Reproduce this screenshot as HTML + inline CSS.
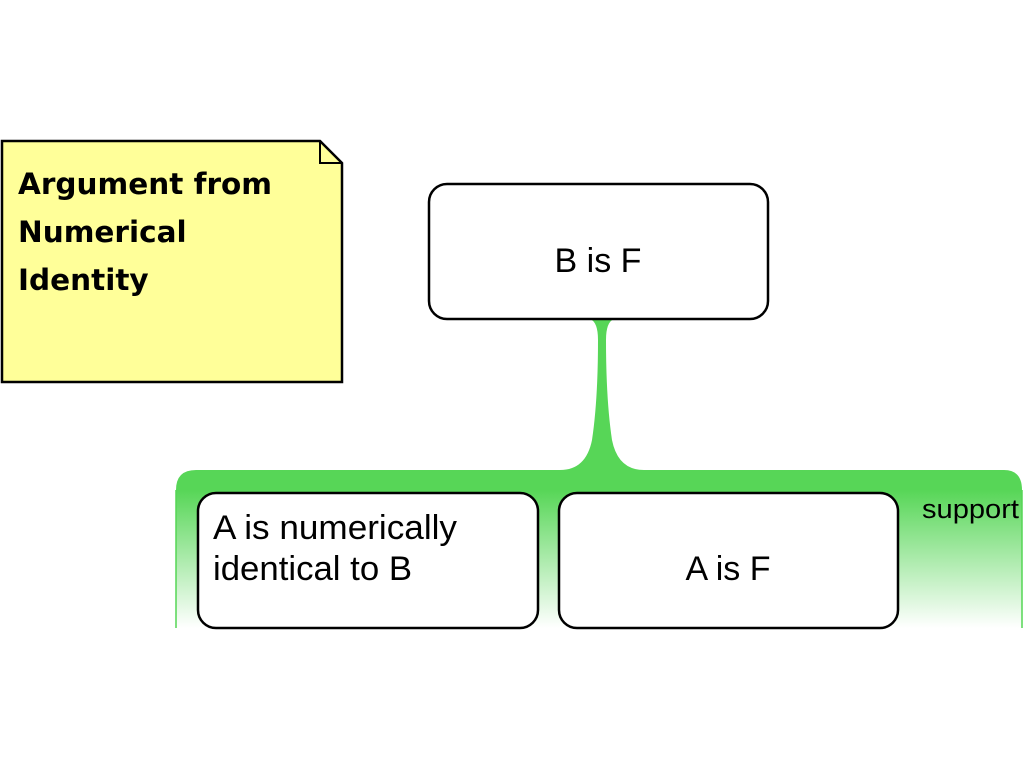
<!DOCTYPE html>
<html><head><meta charset="utf-8"><style>
html,body{margin:0;padding:0;background:#fff;}
svg{display:block;}
</style></head><body>
<svg width="1024" height="768" viewBox="0 0 1024 768" xmlns="http://www.w3.org/2000/svg">
<defs>
<linearGradient id="g" gradientUnits="userSpaceOnUse" x1="0" y1="490" x2="0" y2="628">
<stop offset="0" stop-color="#57d657"/>
<stop offset="1" stop-color="#ffffff"/>
</linearGradient>
</defs>
<!-- green support region -->
<path d="M176,628 L176,490 Q176,470 196,470 L560,470 Q586,470 592,440 Q598,400 598,340 Q598,322 590,319 L614,319 Q606,322 606,340 Q606,400 612,440 Q618,470 644,470 L1004,470 Q1022,470 1022,490 L1022,628 Z" fill="url(#g)"/>
<path d="M176,628 L176,490 M1022,490 L1022,628" stroke="#55d655" stroke-width="1.5" fill="none"/>
<!-- note -->
<polygon points="2,141 320,141 342,163 342,382 2,382" fill="#ffff99" stroke="#000" stroke-width="2.5"/>
<polyline points="320,141 320,163 342,163" fill="none" stroke="#000" stroke-width="2"/>
<g font-family="'Comic Sans MS','DejaVu Sans',sans-serif" font-weight="bold" font-size="29.5" fill="#000">
<text x="18" y="194">Argument from</text>
<text x="18" y="242">Numerical</text>
<text x="18" y="290">Identity</text>
</g>
<!-- boxes -->
<rect x="429" y="184" width="339" height="135" rx="18" fill="#fff" stroke="#000" stroke-width="2.5"/>
<rect x="198" y="493" width="340" height="135" rx="18" fill="#fff" stroke="#000" stroke-width="2.5"/>
<rect x="559" y="493" width="339" height="135" rx="18" fill="#fff" stroke="#000" stroke-width="2.5"/>
<g font-family="'Liberation Sans',sans-serif" font-size="34" fill="#000">
<text x="598" y="272" text-anchor="middle">B is F</text>
<text x="213" y="539" textLength="244" lengthAdjust="spacingAndGlyphs">A is numerically</text>
<text x="213" y="580" textLength="199" lengthAdjust="spacingAndGlyphs">identical to B</text>
<text x="728" y="580" text-anchor="middle">A is F</text>
</g>
<text x="922" y="518" textLength="97" lengthAdjust="spacingAndGlyphs" font-family="'Liberation Sans',sans-serif" font-size="27" fill="#000">support</text>
</svg>
</body></html>
